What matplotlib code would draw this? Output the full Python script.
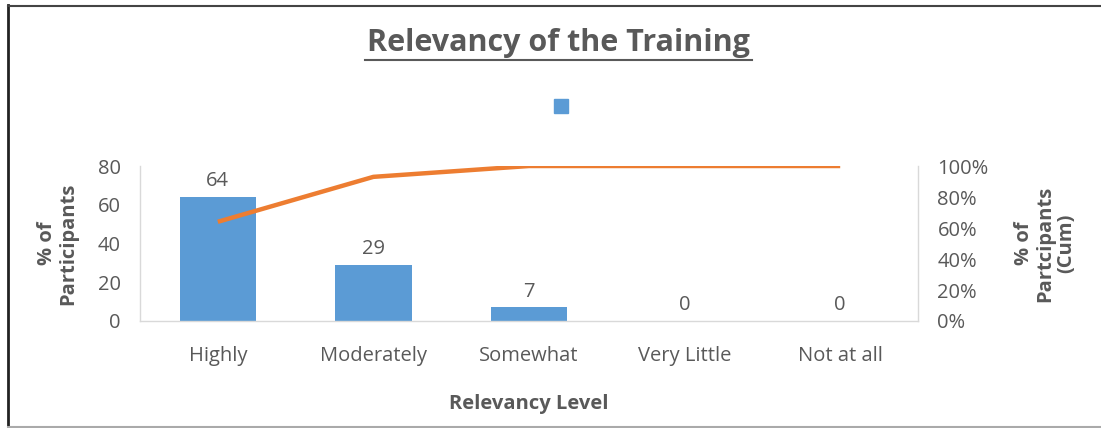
import matplotlib.pyplot as plt
from matplotlib.patches import Patch
from matplotlib.lines import Line2D

levels = ['Highly', 'Moderately', 'Somewhat', 'Very Little', 'Not at all']
pct = [64, 29, 7, 0, 0]
cum = [64, 93, 100, 100, 100]

bar_c = '#5B9BD5'
line_c = '#ED7D31'
txt_c = '#595959'
grid_c = '#D9D9D9'
fs = 14.5

plt.rcParams['font.family'] = ['Open Sans', 'DejaVu Sans']

fig = plt.figure(figsize=(11.01, 4.28), dpi=100)
ax = fig.add_axes([140 / 1101, 1 - 321 / 428, 778 / 1101, 155 / 428])
x = range(len(levels))
bars = ax.bar(x, pct, width=0.49, color=bar_c)
ax.set_xlim(-0.5, len(levels) - 0.5)
ax.set_ylim(0, 80)
ax.set_yticks([0, 20, 40, 60, 80])
ax.set_xticks(list(x))
ax.set_xticklabels(levels)
for b, v in zip(bars, pct):
    ax.text(b.get_x() + b.get_width() / 2, v + 3, str(v), ha='center', va='bottom',
            fontsize=fs, color=txt_c)

ax2 = ax.twinx()
ax2.plot(list(x), cum, color=line_c, lw=3.2, solid_capstyle='butt')
ax2.set_ylim(0, 100)
ax2.set_yticks([0, 20, 40, 60, 80, 100])
ax2.set_yticklabels([f'{t}%' for t in [0, 20, 40, 60, 80, 100]])

for a in (ax, ax2):
    for s in a.spines.values():
        s.set_visible(False)
    a.tick_params(length=0, labelsize=fs, labelcolor=txt_c)
ax.spines['left'].set_visible(True)
ax.spines['bottom'].set_visible(True)
ax2.spines['right'].set_visible(True)
for s in (ax.spines['left'], ax.spines['bottom'], ax2.spines['right']):
    s.set_color(grid_c)
    s.set_linewidth(1)
ax.tick_params(axis='y', pad=14)
ax.tick_params(axis='x', pad=18)
ax2.tick_params(axis='y', pad=14)

ax.set_ylabel('% of\nParticipants', fontsize=fs, fontweight='bold', color=txt_c,
              labelpad=14, linespacing=1.1)
ax2.set_ylabel('% of\nPartcipants\n(Cum)', fontsize=fs, fontweight='bold', color=txt_c,
               rotation=90, labelpad=18, linespacing=1.1)
ax.set_xlabel('Relevancy Level', fontsize=fs, fontweight='bold', color=txt_c, labelpad=20)

fig.text(558 / 1101, 1 - 43 / 428, 'Relevancy of the Training', ha='center', va='center',
         fontsize=22, fontweight='bold', color=txt_c)
fig.add_artist(Line2D([365 / 1101, 752 / 1101], [1 - 60 / 428, 1 - 60 / 428],
                      color=txt_c, lw=1.5))

fig.legend(handles=[Patch(color=bar_c)], labels=[''], loc='center',
           bbox_to_anchor=(561 / 1101, 1 - 107 / 428), frameon=False,
           handlelength=1.0, handleheight=1.2, handletextpad=0, borderpad=0)

# frame around the chart
fig.add_artist(Line2D([7.5 / 1101, 7.5 / 1101], [0, 1 - 5 / 428], color='#222222', lw=2))
fig.add_artist(Line2D([7.5 / 1101, 1], [1 - 5.5 / 428, 1 - 5.5 / 428], color='#444444', lw=1.5))
fig.add_artist(Line2D([7.5 / 1101, 1], [0.8 / 428, 0.8 / 428], color='#AAAAAA', lw=1.5))

fig.savefig('out.png', dpi=100)
